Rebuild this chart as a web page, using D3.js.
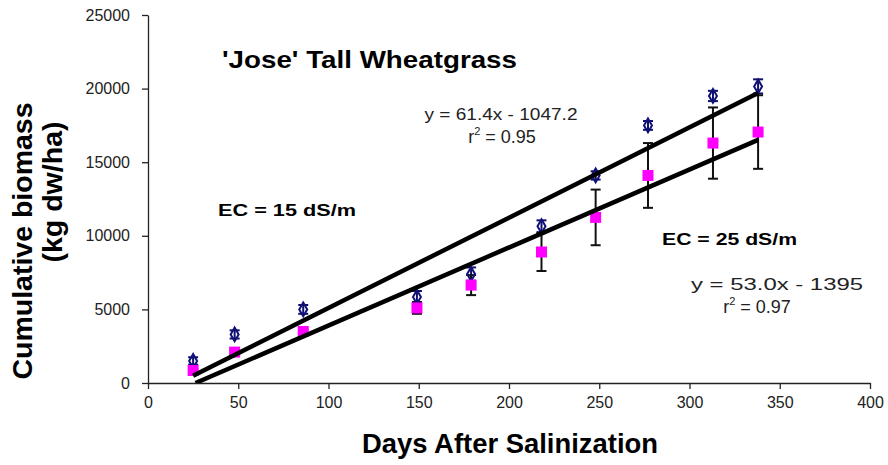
<!DOCTYPE html>
<html>
<head>
<meta charset="utf-8">
<script src="https://cdn.jsdelivr.net/npm/d3@7"></script>
<style>
  html, body { margin: 0; padding: 0; background: #fff; }
  svg { display: block; }
  text { font-family: "Liberation Sans", Arial, sans-serif; }
</style>
</head>
<body>
<svg id="chart" width="888" height="465"></svg>
<script>
// ---- data ----
const days    = [25, 48, 86, 149, 179, 218, 248, 277, 313, 338];
const ec15    = [1500, 3300, 5000, 5850, 7400, 10650, 14100, 17500, 19500, 20150];
const ec15Err = [250, 280, 300, 400, 450, 400, 280, 300, 350, 480];
const ec25    = [850, 2100, 3500, 5100, 6650, 8900, 11250, 14100, 16300, 17050];
const ec25Err = [100, 150, 100, 400, 680, 1290, 1890, 2200, 2420, 2500];
const fitSlope     = [61.4, 53.0];
const fitIntercept = [-1047.2, -1395];
const xTicks = [0, 50, 100, 150, 200, 250, 300, 350, 400];
const yTicks = [0, 5000, 10000, 15000, 20000, 25000];

const svg = d3.select("#chart");
const x = d3.scaleLinear().domain([0, 400]).range([148, 870]);
const y = d3.scaleLinear().domain([0, 25000]).range([383, 15]);

// axes
const xAxis = d3.axisBottom(x).tickValues(xTicks).tickSize(6).tickSizeOuter(0).tickPadding(8)
  .tickFormat(d3.format("d"));
const yAxis = d3.axisLeft(y).tickValues(yTicks).tickSize(6).tickSizeOuter(0).tickPadding(12)
  .tickFormat(d3.format("d"));

const gx = svg.append("g").attr("transform", `translate(0,${y(0)})`).call(xAxis);
const gy = svg.append("g").attr("transform", `translate(${x(0)},0)`).call(yAxis);
[gx, gy].forEach(g => {
  g.attr("font-size", 16).attr("font-family", "Liberation Sans, Arial, sans-serif");
  g.select(".domain").attr("stroke", "#222").attr("stroke-width", 1.3);
  g.selectAll(".tick line").attr("stroke", "#222").attr("stroke-width", 1.3);
  g.selectAll(".tick text").attr("fill", "#222");
});

// clip for trend lines
svg.append("clipPath").attr("id", "plotclip").append("rect")
  .attr("x", x(0)).attr("y", y(25000)).attr("width", x(400) - x(0)).attr("height", y(0) - y(25000));

const series = [
  { vals: ec15, err: ec15Err, barColor: "#10106a" },
  { vals: ec25, err: ec25Err, barColor: "#111" }
];

// error bars
series.forEach(s => {
  const g = svg.append("g").attr("stroke", s.barColor).attr("stroke-width", 2);
  days.forEach((d, i) => {
    const cx = x(d), top = y(s.vals[i] + s.err[i]), bot = y(s.vals[i] - s.err[i]);
    g.append("line").attr("x1", cx).attr("x2", cx).attr("y1", top).attr("y2", bot);
    g.append("line").attr("x1", cx - 5).attr("x2", cx + 5).attr("y1", top).attr("y2", top);
    g.append("line").attr("x1", cx - 5).attr("x2", cx + 5).attr("y1", bot).attr("y2", bot);
  });
});

// markers
const diamond = d3.symbol().type(d3.symbolDiamond).size(55);
svg.append("g").selectAll("path").data(days).join("path")
  .attr("d", diamond)
  .attr("transform", (d, i) => `translate(${x(d)},${y(ec15[i])})`)
  .attr("fill", "none").attr("stroke", "#10107a").attr("stroke-width", 2);

svg.append("g").selectAll("rect").data(days).join("rect")
  .attr("x", d => x(d) - 5.5).attr("y", (d, i) => y(ec25[i]) - 5.5)
  .attr("width", 11).attr("height", 11).attr("fill", "#ff00ff");

// trend lines
const lg = svg.append("g").attr("clip-path", "url(#plotclip)");
fitSlope.forEach((m, k) => {
  const b = fitIntercept[k];
  const x0 = Math.max(days[0], -b / m), x1 = days[days.length - 1];
  lg.append("line")
    .attr("x1", x(x0)).attr("y1", y(m * x0 + b))
    .attr("x2", x(x1)).attr("y2", y(m * x1 + b))
    .attr("stroke", "#000").attr("stroke-width", 4.5);
});

// texts
function txt(str, px, py, size, weight, anchor, len) {
  const t = svg.append("text").attr("x", px).attr("y", py)
    .attr("font-size", size).attr("font-weight", weight)
    .attr("text-anchor", anchor).attr("fill", "#000").text(str);
  if (len) t.attr("textLength", len).attr("lengthAdjust", "spacingAndGlyphs");
  return t;
}
function rsq(str, cx, py) {
  const t = svg.append("text").attr("x", cx).attr("y", py).attr("font-size", 18)
    .attr("text-anchor", "middle").attr("fill", "#222");
  t.append("tspan").text("r");
  t.append("tspan").attr("font-size", 11).attr("dy", -8).text("2");
  t.append("tspan").attr("dy", 8).text(" = " + str);
  return t;
}
txt("'Jose' Tall Wheatgrass", 222, 68, 24, "bold", "start", 295);
txt("EC = 15 dS/m", 218, 216, 17, "bold", "start", 138);
txt("EC = 25 dS/m", 662, 245, 17, "bold", "start", 135);

txt("y = 61.4x - 1047.2", 501, 120, 17, "normal", "middle", 153).attr("fill", "#222");
rsq("0.95", 502, 143);
txt("y = 53.0x - 1395", 777, 290, 17, "normal", "middle", 172).attr("fill", "#222");
rsq("0.97", 757, 313);

// axis titles
txt("Days After Salinization", 510, 453, 27, "bold", "middle", 296);
svg.append("text").attr("transform", "translate(32,241) rotate(-90)")
  .attr("font-size", 28).attr("font-weight", "bold").attr("text-anchor", "middle")
  .attr("textLength", 277).attr("lengthAdjust", "spacingAndGlyphs").text("Cumulative biomass");
svg.append("text").attr("transform", "translate(62,192) rotate(-90)")
  .attr("font-size", 28).attr("font-weight", "bold").attr("text-anchor", "middle")
  .attr("textLength", 141).attr("lengthAdjust", "spacingAndGlyphs").text("(kg dw/ha)");
</script>
</body>
</html>
